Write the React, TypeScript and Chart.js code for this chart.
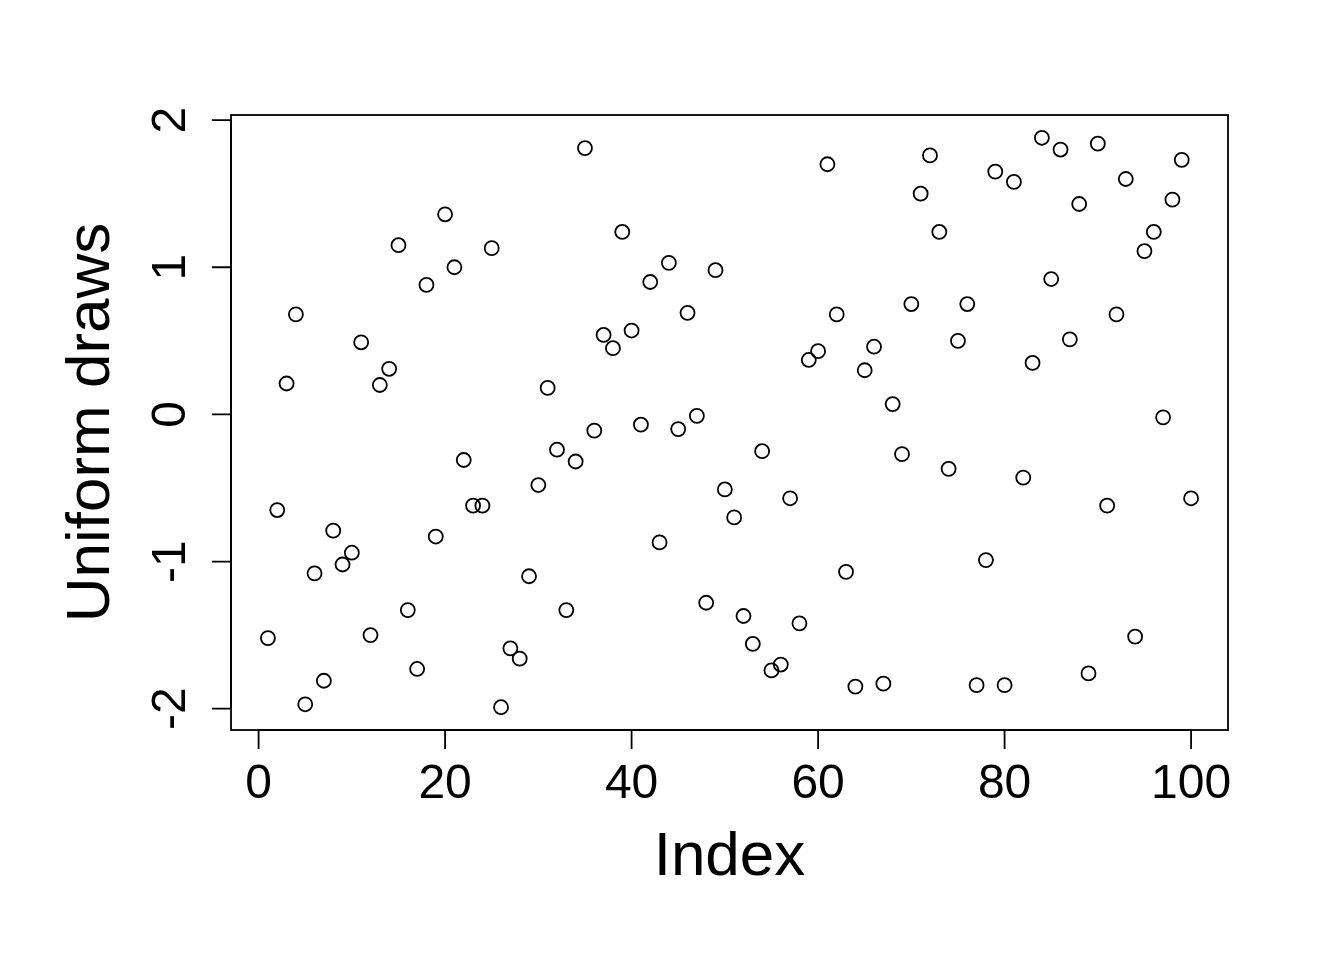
import React, { useEffect, useRef } from "react";
import { Chart, registerables } from "chart.js";

Chart.register(...registerables);

const indexValues: number[] = Array.from({ length: 100 }, (_, i) => i + 1);
const uniformDraws: number[] = [
  -1.52, -0.65, 0.21, 0.68, -1.97, -1.08, -1.81, -0.79, -1.02, -0.94,
  0.49, -1.50, 0.20, 0.31, 1.15, -1.33, -1.73, 0.88, -0.83, 1.36,
  1.00, -0.31, -0.62, -0.62, 1.13, -1.99, -1.59, -1.66, -1.10, -0.48,
  0.18, -0.24, -1.33, -0.32, 1.81, -0.11, 0.54, 0.45, 1.24, 0.57,
  -0.07, 0.90, -0.87, 1.03, -0.10, 0.69, -0.01, -1.28, 0.98, -0.51,
  -0.70, -1.37, -1.56, -0.25, -1.74, -1.70, -0.57, -1.42, 0.37, 0.43,
  1.70, 0.68, -1.07, -1.85, 0.30, 0.46, -1.83, 0.07, -0.27, 0.75,
  1.50, 1.76, 1.24, -0.37, 0.50, 0.75, -1.84, -0.99, 1.65, -1.84,
  1.58, -0.43, 0.35, 1.88, 0.92, 1.80, 0.51, 1.43, -1.76, 1.84,
  -0.62, 0.68, 1.60, -1.51, 1.11, 1.24, -0.02, 1.46, 1.73, -0.57,
];
const xTicks: number[] = [0, 20, 40, 60, 80, 100];
const yTicks: number[] = [-2, -1, 0, 1, 2];
const xTitle = "Index";
const yTitle = "Uniform draws";

const FONT = "'Liberation Sans', Arial, Helvetica, sans-serif";

function rRange(vals: number[]): [number, number] {
  const lo = Math.min(...vals);
  const hi = Math.max(...vals);
  const ext = (hi - lo) * 0.04;
  return [lo - ext, hi + ext];
}

const rAxesPlugin = {
  id: "rAxes",
  afterDraw(chart: any) {
    const ctx = chart.ctx as CanvasRenderingContext2D;
    const { left, right, top, bottom } = chart.chartArea;
    const xs = chart.scales.x;
    const ys = chart.scales.y;
    ctx.save();
    ctx.strokeStyle = "#000";
    ctx.fillStyle = "#000";
    ctx.lineWidth = 1.8;
    ctx.strokeRect(left, top, right - left, bottom - top);

    // x axis
    const tl = 19;
    ctx.beginPath();
    ctx.moveTo(xs.getPixelForValue(xTicks[0]), bottom);
    ctx.lineTo(xs.getPixelForValue(xTicks[xTicks.length - 1]), bottom);
    for (const t of xTicks) {
      const px = xs.getPixelForValue(t);
      ctx.moveTo(px, bottom);
      ctx.lineTo(px, bottom + tl);
    }
    ctx.stroke();
    ctx.font = `48px ${FONT}`;
    ctx.textAlign = "center";
    ctx.textBaseline = "alphabetic";
    for (const t of xTicks) {
      ctx.fillText(String(t), xs.getPixelForValue(t), 798);
    }

    // y axis
    ctx.beginPath();
    ctx.moveTo(left, ys.getPixelForValue(yTicks[0]));
    ctx.lineTo(left, ys.getPixelForValue(yTicks[yTicks.length - 1]));
    for (const t of yTicks) {
      const py = ys.getPixelForValue(t);
      ctx.moveTo(left, py);
      ctx.lineTo(left - tl, py);
    }
    ctx.stroke();
    for (const t of yTicks) {
      const py = ys.getPixelForValue(t);
      ctx.save();
      ctx.translate(185, py);
      ctx.rotate(-Math.PI / 2);
      ctx.fillText(String(t), 0, 0);
      ctx.restore();
    }

    // titles
    ctx.font = `62px ${FONT}`;
    ctx.fillText(xTitle, (left + right) / 2, 875);
    ctx.save();
    ctx.translate(109, (top + bottom) / 2);
    ctx.rotate(-Math.PI / 2);
    ctx.fillText(yTitle, 0, 0);
    ctx.restore();
    ctx.restore();
  },
};

export default function App() {
  const canvasRef = useRef<HTMLCanvasElement | null>(null);

  useEffect(() => {
    document.body.style.margin = "0";
    const canvas = canvasRef.current;
    if (!canvas) return;
    const [xmin, xmax] = rRange(indexValues);
    const [ymin, ymax] = rRange(uniformDraws);
    const chart = new Chart(canvas, {
      type: "scatter",
      data: {
        datasets: [
          {
            data: indexValues.map((x, i) => ({ x, y: uniformDraws[i] })),
            pointStyle: "circle",
            pointRadius: 7,
            pointBorderWidth: 1.8,
            pointBorderColor: "#000",
            pointBackgroundColor: "rgba(0,0,0,0)",
            showLine: false,
          },
        ],
      },
      options: {
        responsive: false,
        animation: false,
        devicePixelRatio: 1,
        layout: { padding: { left: 231, top: 115, right: 116, bottom: 230 } },
        plugins: { legend: { display: false }, tooltip: { enabled: false } },
        scales: {
          x: { type: "linear", min: xmin, max: xmax, display: false },
          y: { type: "linear", min: ymin, max: ymax, display: false },
        },
      },
      plugins: [rAxesPlugin],
    });
    return () => chart.destroy();
  }, []);

  return (
    <div style={{ position: "absolute", left: 0, top: 0, background: "#fff" }}>
      <canvas ref={canvasRef} width={1344} height={960} style={{ display: "block" }} />
    </div>
  );
}
